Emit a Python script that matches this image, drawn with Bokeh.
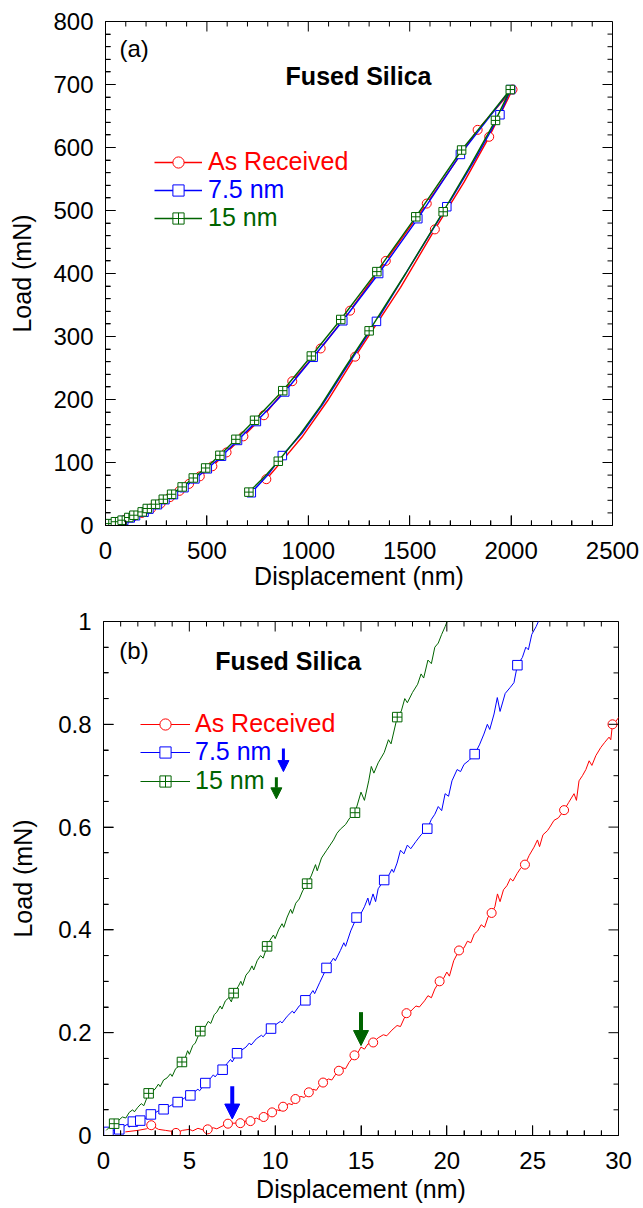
from bokeh.plotting import figure
from bokeh.models import (Range1d, FixedTicker, Legend, LegendItem, Label, Arrow, NormalHead,
                          ColumnDataSource)
from bokeh.embed import file_html
from bokeh.resources import INLINE

FONT = "Liberation Sans"
RED = "#ff0000"
BLUE = "#0000ff"
GREEN = "#006400"

SERIES = ["As Received", "7.5 nm", "15 nm"]

# ---------------- tick positions
A_X_MAJOR = [0, 500, 1000, 1500, 2000, 2500]
A_X_MINOR = [v for v in range(0, 2501, 100) if v % 500]
A_Y_MAJOR = [0, 100, 200, 300, 400, 500, 600, 700, 800]
A_Y_MINOR = [v for v in range(0, 801, 20) if v % 100]
B_X_MAJOR = [0, 5, 10, 15, 20, 25, 30]
B_X_MINOR = [v for v in range(0, 31) if v % 5]
B_Y_MAJOR = [0, 0.2, 0.4, 0.6, 0.8, 1.0]
B_Y_MINOR = [0.05, 0.1, 0.15, 0.25, 0.3, 0.35, 0.45, 0.5, 0.55, 0.65, 0.7, 0.75, 0.85, 0.9, 0.95]
B_Y_LABELS = {0: "0", 0.2: "0.2", 0.4: "0.4", 0.6: "0.6", 0.8: "0.8", 1.0: "1"}

# ---------------- panel (a): full load / unload curves (Displacement nm, Load mN)
A_AR_LOAD_X = [0, 20, 55, 95, 135, 180, 225, 272, 318, 365, 412, 465, 527, 597, 680, 781, 921, 1061, 1206, 1382, 1584, 1835, 2007]
A_AR_LOAD_Y = [0, 2, 5.5, 9, 14, 20, 27, 35, 45, 55, 66, 78, 94, 116, 141.5, 175, 229, 281, 341, 420, 511, 628, 692]
A_AR_UNL_X = [2007, 1892, 1768, 1624, 1455, 1231, 1095, 968, 877, 793]
A_AR_UNL_Y = [692, 617, 545, 470, 378, 268, 198, 140, 105, 73.5]
A_AR_MK_X = [20, 55, 95, 135, 180, 225, 272, 318, 365, 412, 465, 527, 597, 680, 781, 921, 1061, 1206, 1382, 1584, 1835, 2007, 1892, 1624, 1231, 793]
A_AR_MK_Y = [2, 5.5, 9, 14, 20, 27, 35, 45, 55, 66, 78, 94, 116, 141.5, 175, 229, 281, 341, 420, 511, 628, 692, 617, 470, 268, 73.5]

A_75_LOAD_X = [0, 22, 55, 90, 122, 148, 190, 214, 256, 293, 335, 387, 441, 502, 572, 651, 744, 884, 1024, 1170, 1347, 1540, 1750, 1880, 1998]
A_75_LOAD_Y = [0, 2.5, 5.5, 8, 12, 15.5, 21, 26, 33, 41, 49, 60, 74, 90, 110, 135, 165, 212, 267, 325, 400, 487, 589, 643, 692]
A_75_UNL_X = [1998, 1945, 1820, 1683, 1490, 1336, 1190, 1070, 968, 872, 800, 719]
A_75_UNL_Y = [692, 652, 580, 506, 405, 324, 252, 192, 146, 111, 80, 52]
A_75_MK_X = [0, 22, 55, 90, 122, 148, 190, 214, 256, 293, 335, 387, 441, 502, 572, 651, 744, 884, 1024, 1170, 1347, 1540, 1750, 1998, 1945, 1683, 1336, 872, 719]
A_75_MK_Y = [0, 2.5, 5.5, 8, 12, 15.5, 21, 26, 33, 41, 49, 60, 74, 90, 110, 135, 165, 212, 267, 325, 400, 487, 589, 692, 652, 506, 324, 111, 52]

A_15_LOAD_X = [0, 16, 49, 82, 115, 140, 181, 206, 247, 285, 326, 378, 433, 494, 564, 643, 735, 874, 1015, 1160, 1338, 1530, 1756, 1880, 1996]
A_15_LOAD_Y = [0, 3, 6, 8.4, 12.7, 16.3, 21.6, 27, 33.8, 41.7, 49.6, 61.2, 75.4, 91.3, 111.4, 136.8, 167, 214, 269, 327, 403, 490, 596, 645, 692]
A_15_UNL_X = [1996, 1923, 1800, 1665, 1480, 1300, 1180, 1061, 960, 852, 780, 707]
A_15_UNL_Y = [692, 643, 572, 498, 400, 309, 250, 190, 145, 102, 76, 53]
A_15_MK_X = [0, 16, 49, 82, 115, 140, 181, 206, 247, 285, 326, 378, 433, 494, 564, 643, 735, 874, 1015, 1160, 1338, 1530, 1756, 1996, 1923, 1665, 1300, 852, 707]
A_15_MK_Y = [0, 3, 6, 8.4, 12.7, 16.3, 21.6, 27, 33.8, 41.7, 49.6, 61.2, 75.4, 91.3, 111.4, 136.8, 167, 214, 269, 327, 403, 490, 596, 692, 643, 498, 309, 102, 53]

# ---------------- panel (b): initial contact (Displacement nm, Load mN), (x, y) pairs
B_AR_LINE = [(1.27, 0.007), (2.0, 0.010), (2.5, 0.013), (2.78, 0.020), (3.2, 0.012), (3.6, 0.010), (4.0, 0.008),
             (4.22, 0.005), (4.6, 0.010), (5.0, 0.012), (5.2, 0.009), (5.5, 0.014), (5.8, 0.011), (6.07, 0.012),
             (6.4, 0.015), (6.6, 0.013), (6.9, 0.018), (7.25, 0.023), (7.6, 0.024), (7.97, 0.024), (8.3, 0.028),
             (8.56, 0.028), (8.9, 0.034), (9.1, 0.031), (9.33, 0.036), (9.6, 0.042), (9.82, 0.045), (10.1, 0.050),
             (10.3, 0.048), (10.46, 0.056), (10.8, 0.062), (11.0, 0.060), (11.18, 0.071), (11.5, 0.076),
             (11.7, 0.074), (11.96, 0.084), (12.2, 0.090), (12.4, 0.088), (12.6, 0.098), (12.79, 0.103),
             (13.1, 0.110), (13.3, 0.108), (13.5, 0.118), (13.71, 0.126), (13.9, 0.132), (14.1, 0.130),
             (14.3, 0.142), (14.62, 0.156), (14.8, 0.160), (15.0, 0.172), (15.2, 0.168), (15.4, 0.178),
             (15.71, 0.181), (16.0, 0.190), (16.3, 0.196), (16.5, 0.194), (16.8, 0.205), (17.1, 0.214),
             (17.3, 0.212), (17.65, 0.238), (17.9, 0.242), (18.2, 0.252), (18.4, 0.250), (18.7, 0.262),
             (18.9, 0.272), (19.1, 0.268), (19.3, 0.285), (19.58, 0.300), (19.8, 0.305), (20.0, 0.318),
             (20.15, 0.310), (20.4, 0.340), (20.71, 0.360), (21.0, 0.365), (21.2, 0.378), (21.4, 0.375),
             (21.6, 0.392), (21.8, 0.398), (22.0, 0.410), (22.2, 0.405), (22.4, 0.425), (22.61, 0.433),
             (22.8, 0.445), (22.95, 0.470), (23.1, 0.455), (23.3, 0.478), (23.5, 0.486), (23.7, 0.500),
             (23.85, 0.495), (24.1, 0.510), (24.3, 0.520), (24.55, 0.527), (24.8, 0.545), (25.08, 0.561),
             (25.28, 0.575), (25.4, 0.562), (25.6, 0.585), (25.86, 0.593), (26.0, 0.600), (26.24, 0.613),
             (26.5, 0.618), (26.83, 0.633), (27.1, 0.648), (27.41, 0.665), (27.55, 0.652), (27.7, 0.690),
             (27.9, 0.700), (28.1, 0.712), (28.29, 0.729), (28.45, 0.720), (28.68, 0.739), (28.97, 0.755),
             (29.2, 0.765), (29.45, 0.775), (29.55, 0.770), (29.65, 0.800), (29.85, 0.806), (30.05, 0.815)]
B_AR_MK = [(2.78, 0.020), (4.22, 0.005), (6.07, 0.012), (7.25, 0.023), (7.97, 0.024), (8.56, 0.028),
           (9.33, 0.036), (9.82, 0.045), (10.46, 0.056), (11.18, 0.071), (11.96, 0.084), (12.79, 0.103),
           (13.71, 0.126), (14.62, 0.156), (15.71, 0.181), (17.65, 0.238), (19.58, 0.300), (20.71, 0.360),
           (22.61, 0.433), (24.55, 0.527), (26.83, 0.633), (29.65, 0.800)]

B_75_LINE = [(0.15, 0.004), (0.29, 0.007), (0.6, 0.010), (0.92, 0.012), (1.2, 0.018), (1.4, 0.022), (1.5, 0.016),
             (1.71, 0.027), (2.14, 0.029), (2.4, 0.034), (2.6, 0.032), (2.76, 0.041), (3.0, 0.044), (3.2, 0.048),
             (3.3, 0.045), (3.5, 0.051), (3.8, 0.056), (4.0, 0.060), (4.1, 0.057), (4.32, 0.065), (4.6, 0.070),
             (4.8, 0.075), (4.9, 0.072), (5.06, 0.078), (5.3, 0.085), (5.5, 0.090), (5.6, 0.087), (5.93, 0.102),
             (6.2, 0.110), (6.4, 0.118), (6.5, 0.114), (6.7, 0.122), (6.94, 0.128), (7.2, 0.140), (7.4, 0.148),
             (7.5, 0.143), (7.78, 0.160), (8.0, 0.165), (8.3, 0.172), (8.5, 0.180), (8.6, 0.176), (8.9, 0.188),
             (9.2, 0.195), (9.3, 0.192), (9.5, 0.200), (9.76, 0.208), (10.0, 0.215), (10.3, 0.222),
             (10.4, 0.219), (10.7, 0.232), (11.0, 0.242), (11.1, 0.238), (11.4, 0.252), (11.76, 0.263),
             (12.0, 0.272), (12.2, 0.282), (12.3, 0.276), (12.6, 0.298), (12.8, 0.312), (12.99, 0.326),
             (13.2, 0.335), (13.4, 0.345), (13.5, 0.340), (13.8, 0.360), (14.0, 0.375), (14.1, 0.368),
             (14.4, 0.398), (14.74, 0.424), (15.0, 0.432), (15.2, 0.445), (15.4, 0.462), (15.5, 0.448),
             (15.7, 0.470), (15.85, 0.455), (16.0, 0.480), (16.35, 0.497), (16.6, 0.505), (16.8, 0.518),
             (16.9, 0.512), (17.1, 0.530), (17.3, 0.555), (17.5, 0.548), (17.7, 0.565), (17.9, 0.558),
             (18.2, 0.572), (18.5, 0.585), (18.86, 0.597), (19.1, 0.615), (19.3, 0.625), (19.5, 0.640),
             (19.7, 0.632), (19.9, 0.665), (20.1, 0.660), (20.3, 0.690), (20.6, 0.712), (20.8, 0.708),
             (21.0, 0.722), (21.3, 0.730), (21.62, 0.742), (21.9, 0.760), (22.16, 0.781), (22.36, 0.800),
             (22.5, 0.790), (22.75, 0.820), (22.94, 0.852), (23.1, 0.825), (23.4, 0.860), (23.7, 0.872),
             (23.91, 0.881), (24.11, 0.915), (24.4, 0.930), (24.6, 0.950), (24.75, 0.945), (24.95, 0.975),
             (25.2, 0.990), (25.4, 1.005)]
B_75_MK = [(0.29, 0.007), (0.92, 0.012), (1.71, 0.027), (2.14, 0.029), (2.76, 0.041), (3.5, 0.051),
           (4.32, 0.065), (5.06, 0.078), (5.93, 0.102), (6.94, 0.128), (7.78, 0.160), (9.76, 0.208),
           (11.76, 0.263), (12.99, 0.326), (14.74, 0.424), (16.35, 0.497), (18.86, 0.597), (21.62, 0.742),
           (24.11, 0.915)]

B_15_LINE = [(0.16, 0.010), (0.40, 0.018), (0.62, 0.023), (0.9, 0.030), (1.1, 0.036), (1.3, 0.034), (1.5, 0.045),
             (1.7, 0.050), (1.8, 0.046), (2.0, 0.055), (2.2, 0.062), (2.35, 0.058), (2.63, 0.082), (2.8, 0.085),
             (3.0, 0.090), (3.2, 0.100), (3.3, 0.095), (3.5, 0.108), (3.7, 0.112), (3.9, 0.120), (4.0, 0.115),
             (4.2, 0.130), (4.4, 0.135), (4.57, 0.143), (4.75, 0.150), (4.9, 0.165), (5.0, 0.158), (5.2, 0.175),
             (5.35, 0.180), (5.5, 0.192), (5.64, 0.203), (5.9, 0.210), (6.1, 0.222), (6.25, 0.218),
             (6.45, 0.235), (6.6, 0.240), (6.8, 0.252), (6.9, 0.246), (7.1, 0.262), (7.3, 0.268), (7.45, 0.260),
             (7.58, 0.277), (7.85, 0.290), (8.0, 0.300), (8.1, 0.292), (8.3, 0.312), (8.5, 0.320), (8.65, 0.330),
             (8.75, 0.322), (8.95, 0.340), (9.15, 0.350), (9.3, 0.345), (9.53, 0.368), (9.7, 0.380),
             (9.9, 0.390), (10.0, 0.383), (10.2, 0.400), (10.4, 0.412), (10.5, 0.405), (10.7, 0.425),
             (10.9, 0.440), (11.0, 0.432), (11.2, 0.452), (11.4, 0.460), (11.6, 0.476), (11.86, 0.490),
             (12.1, 0.505), (12.35, 0.527), (12.45, 0.515), (12.7, 0.540), (13.0, 0.555), (13.2, 0.565),
             (13.4, 0.575), (13.6, 0.588), (13.8, 0.596), (14.1, 0.605), (14.35, 0.618), (14.65, 0.628),
             (14.8, 0.645), (15.0, 0.668), (15.2, 0.652), (15.45, 0.690), (15.6, 0.718), (15.75, 0.705),
             (16.0, 0.725), (16.35, 0.745), (16.6, 0.770), (16.75, 0.762), (17.11, 0.814), (17.35, 0.826),
             (17.55, 0.850), (17.7, 0.842), (18.0, 0.862), (18.3, 0.878), (18.5, 0.898), (18.65, 0.890),
             (18.9, 0.925), (19.1, 0.918), (19.3, 0.950), (19.5, 0.958), (19.7, 0.975), (19.9, 0.990),
             (20.05, 1.003)]
B_15_MK = [(0.62, 0.023), (2.63, 0.082), (4.57, 0.143), (5.64, 0.203), (7.58, 0.277), (9.53, 0.368),
           (11.86, 0.490), (14.65, 0.628), (17.11, 0.814)]

# onset arrows in (b): (x, y_start, y_end)
B_ARROW_75 = (7.5, 0.096, 0.032)
B_ARROW_15 = (15.0, 0.240, 0.175)
# small arrows next to the legend labels in (b)
B_LEG_ARROW_75 = (10.48, 0.753, 0.708)
B_LEG_ARROW_15 = (10.07, 0.697, 0.655)

MAJOR_LEN = 10   # px, inward tick length
MINOR_LEN = 5


def unzip(pairs):
    return [p[0] for p in pairs], [p[1] for p in pairs]


def base_fig(height, borders, xr, yr, ticks, xlab_standoff, ylab_standoff):
    left, right, top, bottom = borders
    width = 643
    p = figure(width=width, height=height, output_backend="svg", toolbar_location=None, tools="",
               x_range=Range1d(*xr), y_range=Range1d(*yr),
               min_border_left=left, min_border_right=right, min_border_top=top, min_border_bottom=bottom)
    p.xgrid.visible = False
    p.ygrid.visible = False
    p.outline_line_color = "black"
    xmaj, xmin_, ymaj, ymin_ = ticks

    for ax, maj, mnr in ((p.xaxis, xmaj, xmin_), (p.yaxis, ymaj, ymin_)):
        ax.ticker = FixedTicker(ticks=maj, minor_ticks=mnr)
        ax.major_tick_in = MAJOR_LEN
        ax.major_tick_out = 0
        ax.minor_tick_in = MINOR_LEN
        ax.minor_tick_out = 0
        ax.major_tick_line_color = "black"
        ax.minor_tick_line_color = "black"
        ax.axis_line_color = "black"
        ax.major_label_text_font = FONT
        ax.major_label_text_font_size = "24px"
        ax.major_label_text_color = "black"
        ax.axis_label_text_font = FONT
        ax.axis_label_text_font_size = "25px"
        ax.axis_label_text_font_style = "normal"
        ax.axis_label_text_color = "black"
    p.xaxis.axis_label = "Displacement (nm)"
    p.yaxis.axis_label = "Load (mN)"
    p.xaxis.major_label_standoff = 16
    p.yaxis.major_label_standoff = 12
    p.xaxis.axis_label_standoff = xlab_standoff
    p.yaxis.axis_label_standoff = ylab_standoff
    return p


def add_frame_ticks(p, height, borders, xr, yr, ticks):
    """Inward ticks on all four frame edges, drawn as head-less Arrow annotations."""
    left, right, top, bottom = borders
    fw = 643 - left - right
    fh = height - top - bottom
    dx_per_px = (xr[1] - xr[0]) / fw
    dy_per_px = (yr[1] - yr[0]) / fh
    xmaj, xmin_, ymaj, ymin_ = ticks
    x0, y0, x1, y1 = [], [], [], []
    for vals, ln in ((xmaj, MAJOR_LEN), (xmin_, MINOR_LEN)):
        for v in vals:
            x0 += [v, v]
            x1 += [v, v]
            y0 += [yr[0], yr[1]]
            y1 += [yr[0] + ln * dy_per_px, yr[1] - ln * dy_per_px]
    for vals, ln in ((ymaj, MAJOR_LEN), (ymin_, MINOR_LEN)):
        for v in vals:
            y0 += [v, v]
            y1 += [v, v]
            x0 += [xr[0], xr[1]]
            x1 += [xr[0] + ln * dx_per_px, xr[1] - ln * dx_per_px]
    src = ColumnDataSource(data=dict(x0=x0, y0=y0, x1=x1, y1=y1))
    p.add_layout(Arrow(end=None, source=src, x_start="x0", y_start="y0", x_end="x1", y_end="y1",
                       line_color="black", line_width=1))


def add_legend(p, label, renderers, color, loc, gw, stand):
    leg = Legend(items=[LegendItem(label=label, renderers=renderers)], location=loc,
                 label_text_color=color, label_text_font=FONT, label_text_font_size="25px",
                 glyph_width=gw, glyph_height=28, label_height=28, label_standoff=stand,
                 padding=0, margin=0, spacing=0, border_line_color=None, background_fill_alpha=0)
    p.add_layout(leg)


# ================= panel (a)
A_BORDERS = (105, 31, 21, 75)
A_TICKS = (A_X_MAJOR, A_X_MINOR, A_Y_MAJOR, A_Y_MINOR)
pa = base_fig(600, A_BORDERS, (0, 2500), (0, 800), A_TICKS, 0, 14)

series_a = [
    (A_AR_LOAD_X + A_AR_UNL_X[1:], A_AR_LOAD_Y + A_AR_UNL_Y[1:], A_AR_MK_X, A_AR_MK_Y, RED, "circle", 9),
    (A_75_LOAD_X + A_75_UNL_X[1:], A_75_LOAD_Y + A_75_UNL_Y[1:], A_75_MK_X, A_75_MK_Y, BLUE, "square", 8.5),
    (A_15_LOAD_X + A_15_UNL_X[1:], A_15_LOAD_Y + A_15_UNL_Y[1:], A_15_MK_X, A_15_MK_Y, GREEN, "square_cross", 8.5),
]
legend_locs_a = [(49, 349), (49, 321), (49, 293)]
for (lx, ly, mx, my, col, mk, sz), name, loc in zip(series_a, SERIES, legend_locs_a):
    rl = pa.line(lx, ly, line_color=col, line_width=1.4)
    rm = pa.scatter(mx, my, marker=mk, size=sz, line_color=col, fill_color="white", line_width=1)
    add_legend(pa, name, [rl, rm], col, loc, 48, 6)

pa.add_layout(Label(x=888, y=713.6, text="Fused Silica", text_font=FONT, text_font_size="25px",
                    text_font_style="bold", text_color="black", text_baseline="middle"))
pa.add_layout(Label(x=69, y=757, text="(a)", text_font=FONT, text_font_size="24px",
                    text_color="black", text_baseline="middle"))
add_frame_ticks(pa, 600, A_BORDERS, (0, 2500), (0, 800), A_TICKS)

# ================= panel (b)
B_BORDERS = (103, 25, 21, 73)
B_TICKS = (B_X_MAJOR, B_X_MINOR, B_Y_MAJOR, B_Y_MINOR)
pb = base_fig(608, B_BORDERS, (0, 30), (0, 1), B_TICKS, 3, 18)
pb.yaxis.major_label_overrides = B_Y_LABELS

series_b = [(B_AR_LINE, B_AR_MK, RED, "circle", 9), (B_75_LINE, B_75_MK, BLUE, "square", 9.5),
            (B_15_LINE, B_15_MK, GREEN, "square_cross", 9.5)]
legend_locs_b = [(37, 397), (37, 369), (37, 340)]
for (line_pts, mk_pts, col, mk, sz), name, loc in zip(series_b, SERIES, legend_locs_b):
    lx, ly = unzip(line_pts)
    mx, my = unzip(mk_pts)
    rl = pb.line(lx, ly, line_color=col, line_width=1)
    rm = pb.scatter(mx, my, marker=mk, size=sz, line_color=col, fill_color="white", line_width=1)
    add_legend(pb, name, [rl, rm], col, loc, 50, 5)

for (ax_, y0, y1), col, hs, lw in [(B_ARROW_75, BLUE, 15, 4), (B_ARROW_15, GREEN, 15, 4),
                                   (B_LEG_ARROW_75, BLUE, 11, 3), (B_LEG_ARROW_15, GREEN, 11, 3)]:
    pb.add_layout(Arrow(end=NormalHead(size=hs, fill_color=col, line_color=col, line_width=1),
                        x_start=ax_, y_start=y0, x_end=ax_, y_end=y1, line_color=col, line_width=lw))

pb.add_layout(Label(x=6.51, y=0.9236, text="Fused Silica", text_font=FONT, text_font_size="25px",
                    text_font_style="bold", text_color="black", text_baseline="middle"))
pb.add_layout(Label(x=0.92, y=0.944, text="(b)", text_font=FONT, text_font_size="24px",
                    text_color="black", text_baseline="middle"))
add_frame_ticks(pb, 608, B_BORDERS, (0, 30), (0, 1), B_TICKS)

# two stacked roots in one page (no layout container)
open("out.html", "w").write(file_html([pa, pb], INLINE))
